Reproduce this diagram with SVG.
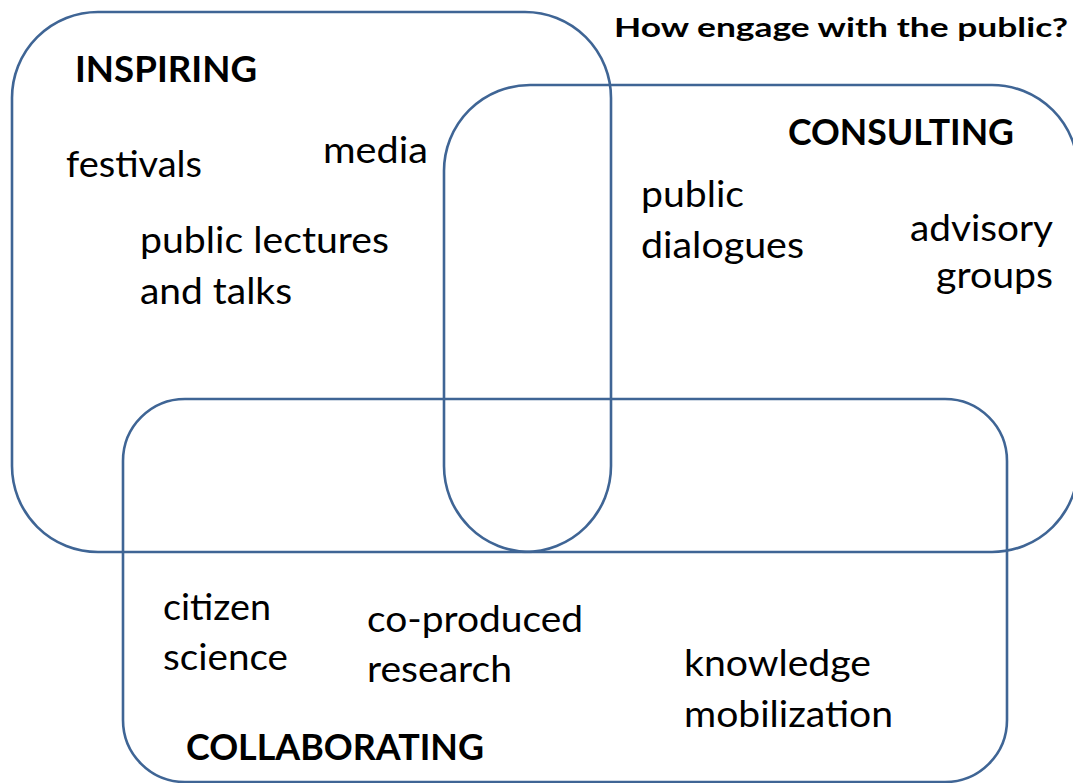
<svg xmlns="http://www.w3.org/2000/svg" width="1073" height="783" viewBox="0 0 1073 783">
  <style>
    .box { fill: none; stroke: #3f6595; stroke-width: 2.6; }
    .lbl { font-family: Lato, "Open Sans", sans-serif; font-size: 37px; fill: #000; }
    .ttl { font-family: Lato, "Open Sans", sans-serif; font-size: 36px; font-weight: bold; fill: #000; }
    .hdr { font-family: Lato, "Open Sans", sans-serif; font-size: 26px; font-weight: bold; fill: #000; }
  </style>
  <rect width="1073" height="783" fill="#fff"/>

  <text class="hdr" x="614" y="37" textLength="454" lengthAdjust="spacingAndGlyphs">How engage with the public?</text>

  <g id="inspiring">
    <rect class="box" x="12" y="12" width="599" height="540" rx="86" ry="86"/>
    <text class="ttl" x="75" y="82" textLength="182" lengthAdjust="spacingAndGlyphs">INSPIRING</text>
    <text class="lbl" x="66" y="177" textLength="136" lengthAdjust="spacingAndGlyphs">festivals</text>
    <text class="lbl" x="323" y="163" textLength="105" lengthAdjust="spacingAndGlyphs">media</text>
    <text class="lbl" x="140" y="253" textLength="249" lengthAdjust="spacingAndGlyphs">public lectures</text>
    <text class="lbl" x="140" y="304" textLength="152" lengthAdjust="spacingAndGlyphs">and talks</text>
  </g>

  <g id="consulting">
    <!-- right edge runs just past the canvas -->
    <rect class="box" x="444" y="85" width="634" height="467" rx="86" ry="86"/>
    <text class="ttl" x="788" y="145" textLength="226" lengthAdjust="spacingAndGlyphs">CONSULTING</text>
    <text class="lbl" x="641" y="207" textLength="103" lengthAdjust="spacingAndGlyphs">public</text>
    <text class="lbl" x="641" y="258" textLength="163" lengthAdjust="spacingAndGlyphs">dialogues</text>
    <text class="lbl" x="910" y="241" textLength="143" lengthAdjust="spacingAndGlyphs">advisory</text>
    <text class="lbl" x="936" y="288" textLength="117" lengthAdjust="spacingAndGlyphs">groups</text>
  </g>

  <g id="collaborating">
    <rect class="box" x="123" y="399" width="884" height="383" rx="62" ry="62"/>
    <text class="lbl" x="163" y="620" textLength="108" lengthAdjust="spacingAndGlyphs">citizen</text>
    <text class="lbl" x="163" y="670" textLength="125" lengthAdjust="spacingAndGlyphs">science</text>
    <text class="lbl" x="367" y="632" textLength="216" lengthAdjust="spacingAndGlyphs">co-produced</text>
    <text class="lbl" x="367" y="682" textLength="145" lengthAdjust="spacingAndGlyphs">research</text>
    <text class="lbl" x="684" y="676" textLength="187" lengthAdjust="spacingAndGlyphs">knowledge</text>
    <text class="lbl" x="684" y="727" textLength="209" lengthAdjust="spacingAndGlyphs">mobilization</text>
    <text class="ttl" x="186" y="760" textLength="298" lengthAdjust="spacingAndGlyphs">COLLABORATING</text>
  </g>

  <g id="connectors"/>
</svg>
